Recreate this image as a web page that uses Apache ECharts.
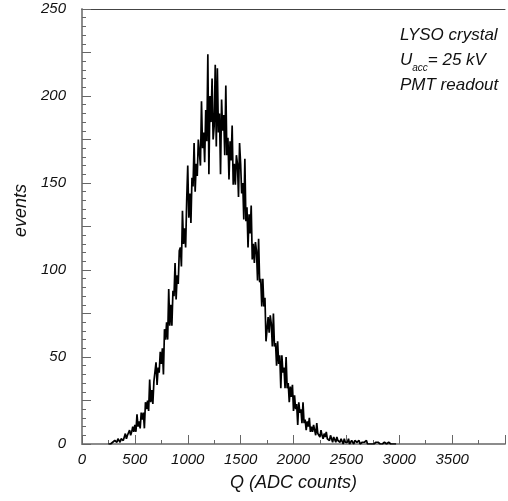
<!DOCTYPE html>
<html>
<head>
<meta charset="utf-8">
<script src="https://cdn.jsdelivr.net/npm/echarts@6/dist/echarts.min.js"></script>
<style>
  html, body { margin: 0; padding: 0; background: #fff; }
  #chart { width: 508px; height: 501px; }
</style>
</head>
<body>
<div id="chart"></div>
<script>
// histogram bins (ADC channels) in steps of 10 counts
var binStart = 250;
var binWidth = 10;
var counts = [
  // 250 - 490
  0, 1, 0, 1, 1, 0, 2, 1, 1, 3, 2, 1, 3, 4, 2, 4, 6, 3, 5, 5, 8, 5, 7, 10, 7,
  // 500 - 740
  11, 7, 17, 10, 13, 9, 18, 14, 18, 9, 24, 20, 25, 19, 37, 24, 31, 23, 36, 35, 47, 34, 44, 41, 53,
  // 750 - 990
  46, 55, 40, 66, 60, 70, 60, 89, 68, 80, 68, 88, 85, 104, 83, 97, 92, 111, 113, 102, 134, 115, 124, 113, 140,
  // 1000 - 1240
  160, 130, 144, 127, 153, 148, 173, 145, 161, 154, 175, 175, 160, 197, 170, 179, 162, 192, 174, 224, 155, 200, 185, 210, 175,
  // 1250 - 1490
  183, 218, 171, 216, 179, 190, 155, 198, 180, 189, 166, 206, 166, 176, 152, 174, 163, 183, 149, 161, 149, 166, 161, 142, 173,
  // 1500 - 1740
  161, 144, 150, 129, 164, 128, 136, 113, 132, 121, 137, 106, 115, 104, 116, 111, 94, 118, 93, 95, 79, 95, 79, 84, 59,
  // 1750 - 1990
  66, 73, 64, 74, 69, 56, 75, 56, 58, 45, 59, 46, 51, 32, 51, 41, 44, 32, 50, 32, 35, 24, 33, 27, 34,
  // 2000 - 2240
  19, 28, 20, 23, 11, 24, 18, 20, 12, 24, 12, 14, 8, 13, 10, 15, 7, 10, 7, 11, 10, 5, 12, 6, 7,
  // 2250 - 2490
  4, 8, 5, 3, 6, 4, 7, 3, 4, 2, 5, 3, 1, 4, 3, 1, 4, 2, 3, 1, 3, 2, 0, 3, 1,
  // 2500 - 2740
  2, 1, 3, 0, 1, 2, 1, 0, 2, 1, 1, 0, 2, 0, 1, 1, 0, 1, 0, 2, 0, 1, 0, 1, 0,
  // 2750 - 2970
  1, 0, 0, 1, 0, 1, 0, 0, 1, 0, 0, 1, 0, 0, 0, 1, 0, 0, 1, 0, 0, 0, 0
];
var xTicks = [0, 500, 1000, 1500, 2000, 2500, 3000, 3500];
var yTicks = [0, 50, 100, 150, 200, 250];
var infoLines = ["LYSO crystal", "U{sub|acc}= 25 kV", "PMT readout"];

var histo = counts.map(function (v, i) {
  return [binStart + i * binWidth, v];
});

var chart = echarts.init(document.getElementById("chart"));

var labelFont = {
  fontFamily: "Liberation Sans",
  fontStyle: "italic",
  fontSize: 15,
  color: "#111"
};

var option = {
  animation: false,
  backgroundColor: "#fff",
  grid: { left: 82, top: 9, right: -10, bottom: 57 },
  xAxis: [
    {
      type: "value",
      min: 0,
      max: 4000,
      interval: 500,
      name: "Q (ADC counts)",
      nameLocation: "middle",
      nameGap: 30,
      nameTextStyle: {
        fontFamily: "Liberation Sans",
        fontStyle: "italic",
        fontSize: 18,
        color: "#111"
      },
      axisLine: { show: true, lineStyle: { color: "#8c8c8c", width: 2 } },
      axisTick: { show: true, inside: true, length: 9, lineStyle: { color: "#666", width: 1 } },
      minorTick: { show: true, splitNumber: 2, length: 4, lineStyle: { color: "#666", width: 1 } },
      axisLabel: Object.assign({
        margin: 8,
        formatter: function (v) {
          return xTicks.indexOf(v) >= 0 ? String(v) : "";
        }
      }, labelFont),
      splitLine: { show: false }
    },
    {
      // top frame line
      type: "value",
      position: "top",
      min: 0,
      max: 4000,
      axisLine: { show: true, lineStyle: { color: "#444", width: 1 } },
      axisTick: { show: false },
      axisLabel: { show: false },
      splitLine: { show: false }
    }
  ],
  yAxis: {
    type: "value",
    min: 0,
    max: 250,
    interval: 25,
    name: "events",
    nameLocation: "middle",
    nameGap: 52,
    nameTextStyle: {
      fontFamily: "Liberation Sans",
      fontStyle: "italic",
      fontSize: 18,
      color: "#111",
      padding: [0, 0, 0, 32]
    },
    axisLine: { show: true, lineStyle: { color: "#8c8c8c", width: 2 } },
    axisTick: { show: true, inside: true, length: 9, lineStyle: { color: "#666", width: 1 } },
    minorTick: { show: true, splitNumber: 5, length: 4, lineStyle: { color: "#666", width: 1 } },
    axisLabel: Object.assign({
      margin: 16,
      formatter: function (v) {
        return yTicks.indexOf(v) >= 0 ? String(v) : "";
      }
    }, labelFont),
    splitLine: { show: false }
  },
  graphic: [
    {
      type: "text",
      left: 400,
      top: 23,
      style: {
        text: infoLines.join("\n"),
        font: "italic 17px 'Liberation Sans'",
        fill: "#111",
        lineHeight: 25,
        rich: {
          sub: {
            fontFamily: "Liberation Sans",
            fontStyle: "italic",
            fontSize: 10,
            fill: "#111",
            verticalAlign: "bottom",
            padding: [8, 0, 0, 0]
          }
        }
      }
    }
  ],
  series: [
    {
      type: "line",
      data: histo,
      showSymbol: false,
      lineStyle: { color: "#000", width: 1.7 },
      clip: true
    }
  ]
};

chart.setOption(option);
</script>
</body>
</html>
